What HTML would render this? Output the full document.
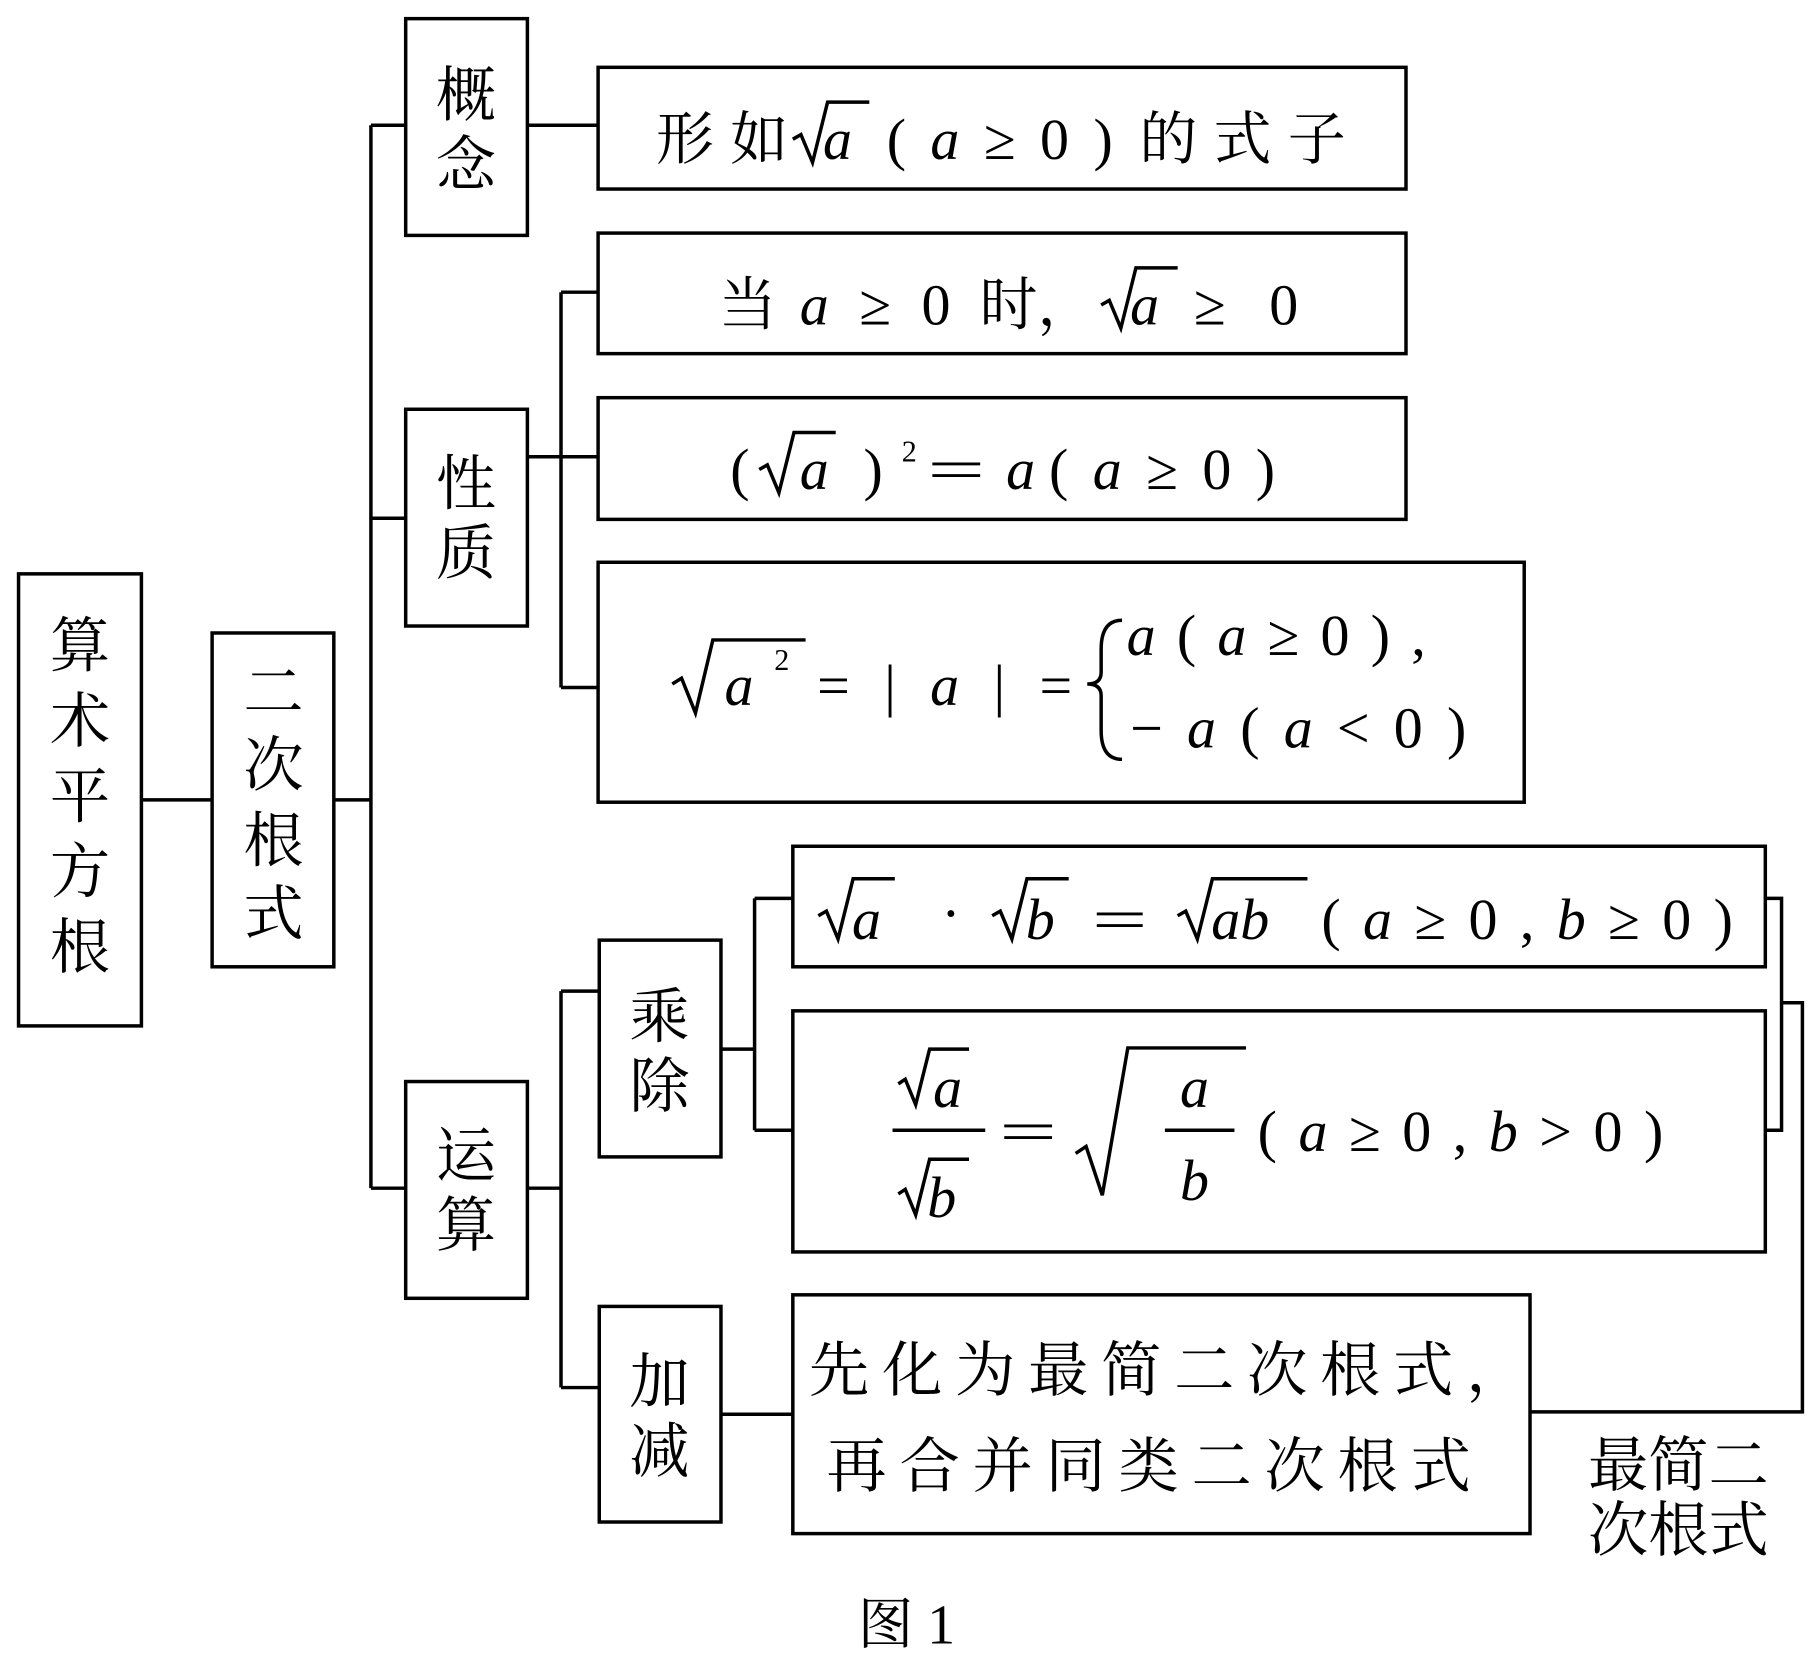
<!DOCTYPE html>
<html><head><meta charset="utf-8"><style>
html,body{margin:0;padding:0;background:#fff;}
svg{display:block;}
.c{font-family:"Liberation Serif","Noto Serif CJK SC","Noto Sans CJK SC",serif;font-size:52px;fill:#000;}
.m{font-family:"Liberation Serif","Noto Serif CJK SC",serif;font-size:50px;fill:#000;}
.i{font-style:italic;}
</style></head><body>
<svg width="1814" height="1667" viewBox="0 0 1565 1438" xmlns="http://www.w3.org/2000/svg">
<g fill="none" stroke="#000" stroke-width="3">
<rect x="16" y="495" width="106" height="390"/>
<rect x="183" y="546" width="105" height="288"/>
<rect x="350" y="16" width="105" height="187"/>
<rect x="350" y="353" width="105" height="187"/>
<rect x="350" y="933" width="105" height="187"/>
<rect x="517" y="811" width="105" height="187"/>
<rect x="517" y="1127" width="105" height="186"/>
<rect x="516" y="58" width="697" height="105"/>
<rect x="516" y="201" width="697" height="104"/>
<rect x="516" y="343" width="697" height="105"/>
<rect x="516" y="485" width="799" height="207"/>
<rect x="684" y="730" width="839" height="104"/>
<rect x="684" y="872" width="839" height="208"/>
<rect x="684" y="1117" width="636" height="206"/>
<path d="M122 690H183M288 690H320M320 108V1025M320 108H350M320 447H350M320 1025H350M455 108H516"/>
<path d="M455 394H516M484 252V593M484 252H516M484 593H516"/>
<path d="M455 1025H484M484 855V1197M484 855H517M484 1197H517"/>
<path d="M622 905H651M651 775V975M651 775H684M651 975H684"/>
<path d="M1523 775H1537V975H1523M1537 865H1555V1218H1320M622 1220H684"/>
</g>
<g class="c" text-anchor="middle">
<text x="69" y="575">算</text><text x="69" y="640">术</text><text x="69" y="705">平</text><text x="69" y="770">方</text><text x="69" y="835">根</text>
<text x="236" y="615">二</text><text x="236" y="678">次</text><text x="236" y="743">根</text><text x="236" y="806">式</text>
<text x="402" y="100">概</text><text x="402" y="160">念</text>
<text x="402" y="435">性</text><text x="402" y="495">质</text>
<text x="402" y="1015">运</text><text x="402" y="1075">算</text>
<text x="569" y="895">乘</text><text x="569" y="955">除</text>
<text x="569" y="1210">加</text><text x="569" y="1270">减</text>
</g>
<g class="m">
<text x="566" y="137" letter-spacing="14">形如</text>
<text x="710" y="137" class="i">a</text>
<text x="765" y="137" textLength="195" lengthAdjust="spacing">(<tspan class="i">a</tspan>≥0)</text>
<text x="983" y="137" letter-spacing="14">的式子</text>
<text x="620" y="280">当</text>
<text x="690" y="280" textLength="130" lengthAdjust="spacing"><tspan class="i">a</tspan>≥0</text>
<text x="845" y="280">时，</text>
<text x="975" y="280" class="i">a</text><text x="1030" y="280" textLength="90" lengthAdjust="spacing">≥0</text>
<text x="630" y="422">(</text><text x="690" y="422" class="i">a</text><text x="745" y="422">)</text>
<text x="778" y="398" font-size="26">2</text>
<text x="800" y="422" textLength="50" lengthAdjust="spacingAndGlyphs">=</text><text x="868" y="422" class="i">a</text>
<text x="905" y="422" textLength="195" lengthAdjust="spacing">(<tspan class="i">a</tspan>≥0)</text>
<text x="625" y="608" class="i">a</text><text x="668" y="578" font-size="26">2</text>
<text x="705" y="608" textLength="220" lengthAdjust="spacing">=|<tspan class="i">a</tspan>|=</text>
<text x="972" y="565" textLength="258" lengthAdjust="spacing"><tspan class="i">a</tspan>(<tspan class="i">a</tspan>≥0),</text>
<text x="975" y="645" textLength="290" lengthAdjust="spacing">−<tspan class="i">a</tspan>(<tspan class="i">a</tspan>&lt;0)</text>
<text x="735" y="810" class="i">a</text><text x="812" y="805">·</text>
<text x="885" y="810" class="i">b</text><text x="942" y="810" textLength="48" lengthAdjust="spacingAndGlyphs">=</text>
<text x="1045" y="810" class="i">ab</text>
<text x="1140" y="810" textLength="355" lengthAdjust="spacing">(<tspan class="i">a</tspan>≥0,<tspan class="i">b</tspan>≥0)</text>
<text x="805" y="955" class="i">a</text>
<text x="800" y="1050" class="i">b</text>
<text x="862" y="993" textLength="50" lengthAdjust="spacingAndGlyphs">=</text>
<text x="1018" y="955" class="i">a</text>
<text x="1018" y="1035" class="i">b</text>
<text x="1085" y="993" textLength="350" lengthAdjust="spacing">(<tspan class="i">a</tspan>≥0,<tspan class="i">b</tspan>&gt;0)</text>
</g>
<g fill="none" stroke="#000" stroke-width="3">
<path d="M684 120l7-4 10 24 13-52h36"/>
<path d="M950 263l7-4 10 24 13-52h36"/>
<path d="M655 405l7-4 10 24 13-52h36"/>
<path d="M580 590l8-5 12 30 15-63h80"/>
<path d="M968 535q-18 0-18 25v20q0 10-12 10q12 0 12 10v30q0 25 18 25"/>
<path d="M706 790l7-4 10 24 13-52h36"/>
<path d="M856 790l7-4 10 24 13-52h36"/>
<path d="M1016 790l7-4 10 24 13-52h82"/>
<path d="M775 935l6-4 9 22 12-48h34"/>
<path d="M775 1030l6-4 9 22 12-48h34"/>
<path d="M770 975H850"/>
<path d="M928 995l9-6 14 42 22-127h102"/>
<path d="M1005 975H1065"/>
</g>
<g class="c" font-size="50">
<text x="698" y="1200" letter-spacing="11">先化为最简二次根式，</text>
<text x="713" y="1283" letter-spacing="11">再合并同类二次根式</text>
<text x="1370" y="1282">最简二</text>
<text x="1370" y="1338">次根式</text>
<text x="740" y="1418" font-size="48">图 1</text>
</g>
</svg>
</body></html>
